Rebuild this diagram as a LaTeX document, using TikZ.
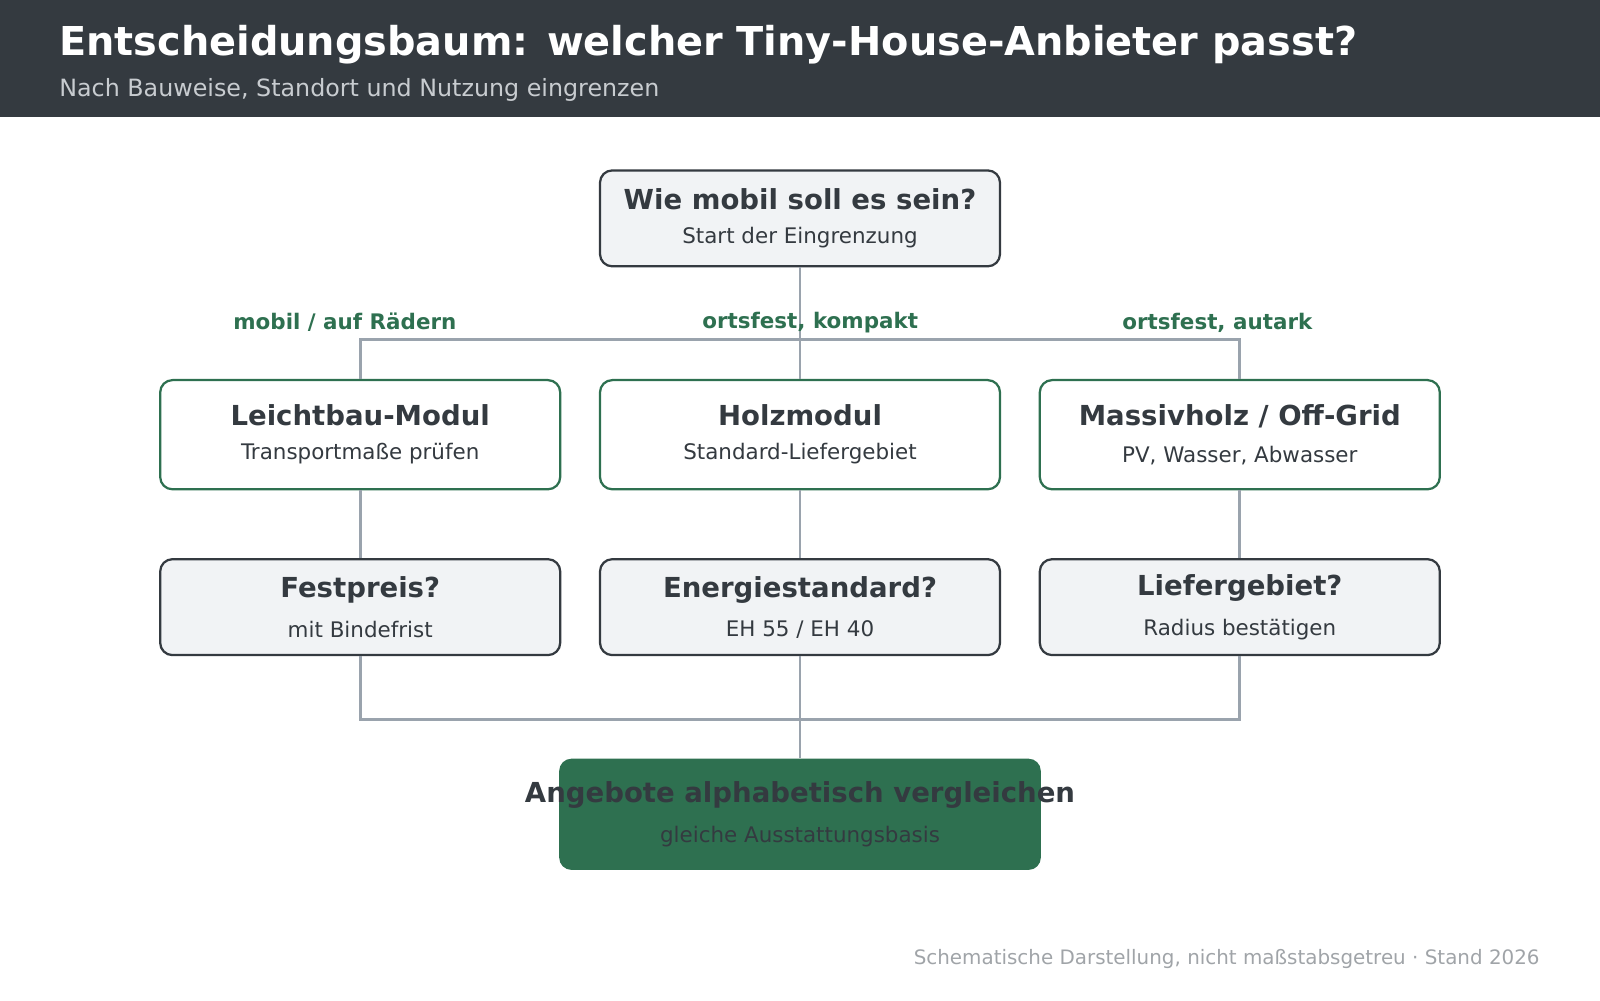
\documentclass[tikz,border=0pt]{standalone}
\usepackage{fontspec}
\setmainfont{DejaVu Sans}
\usetikzlibrary{positioning}
\definecolor{headdark}{HTML}{343A40}
\definecolor{subgray}{HTML}{C8CCD0}
\definecolor{textdark}{HTML}{343A40}
\definecolor{boxfill}{HTML}{F1F3F5}
\definecolor{treegreen}{HTML}{2E7050}
\definecolor{linegray}{HTML}{9AA3AD}
\definecolor{footgray}{HTML}{A0A4A8}
\tikzset{
  box/.style={draw=textdark,line width=2.2pt,rounded corners=12pt,fill=boxfill,
    minimum width=392pt,minimum height=94pt,align=center,text=textdark},
  gbox/.style={box,draw=treegreen,fill=white,minimum height=107pt},
  endbox/.style={rounded corners=12pt,fill=treegreen,minimum width=472pt,
    minimum height=109pt},
  endtext/.style={align=center,text=textdark},
  wire/.style={draw=linegray,line width=2.6pt},
  branch/.style={text=treegreen,font=\fontsize{21pt}{24pt}\selectfont\bfseries},
}
\newcommand{\boxtext}[2]{{\fontsize{27pt}{32pt}\selectfont\bfseries #1}\\[16pt]{\fontsize{21pt}{25pt}\selectfont #2}}
\begin{document}
\begin{tikzpicture}[x=1pt,y=-1pt]
  \useasboundingbox (0,0) rectangle (1568,980);
  % header
  \fill[headdark] (0,0) rectangle (1568,115);
  \node[anchor=west,inner sep=0pt,text=white,font=\fontsize{39pt}{44pt}\selectfont\bfseries] (title) at (58,44) {Entscheidungsbaum: welcher Tiny-House-Anbieter passt?};
  \node[anchor=west,inner sep=0pt,text=subgray,font=\fontsize{23.3pt}{26pt}\selectfont] (subtitle) at (58,88) {Nach Bauweise, Standort und Nutzung eingrenzen};

  % boxes
  \node[box] (start) at (784,214) {\boxtext{Wie mobil soll es sein?}{Start der Eingrenzung}};
  \node[gbox] (leicht) at (353,426) {\boxtext{Leichtbau-Modul}{Transportmaße prüfen}};
  \node[gbox] (holz) at (784,426) {\boxtext{Holzmodul}{Standard-Liefergebiet}};
  \node[gbox] (massiv) at (1215,426) {\boxtext{Massivholz / Off-Grid}{PV, Wasser, Abwasser}};
  \node[box] (preis) at (353,595) {\boxtext{Festpreis?}{mit Bindefrist}};
  \node[box] (energie) at (784,595) {\boxtext{Energiestandard?}{EH 55 / EH 40}};
  \node[box] (liefer) at (1215,595) {\boxtext{Liefergebiet?}{Radius bestätigen}};
  \node[endbox] (vergleich) at (784,798) {};
  \node[endtext] (vergleichtext) at (vergleich.center) {\boxtext{Angebote alphabetisch vergleichen}{gleiche Ausstattungsbasis}};

  % connectors
  \coordinate (bus) at (784,333);
  \coordinate (bus2) at (784,705);
  \draw[wire] (start.south) -- (bus);
  \draw[wire] (leicht.north) |- (bus) -| (massiv.north);
  \draw[wire] (bus) -- (holz.north);
  \draw[wire] (leicht) -- (preis);
  \draw[wire] (holz) -- (energie);
  \draw[wire] (massiv) -- (liefer);
  \draw[wire] (preis.south) |- (bus2) -| (liefer.south);
  \draw[wire] (energie.south) -- (vergleich.north);

  % branch labels
  \node[branch] (lmobil) at (338,316) {mobil / auf Rädern};
  \node[branch] (lkompakt) at (794,316) {ortsfest, kompakt};
  \node[branch] (lautark) at (1193,316) {ortsfest, autark};

  % footer
  \node[anchor=east,inner sep=0pt,text=footgray,font=\fontsize{19.5pt}{22pt}\selectfont] (foot) at (1509,940) {Schematische Darstellung, nicht maßstabsgetreu · Stand 2026};
\end{tikzpicture}
\end{document}
